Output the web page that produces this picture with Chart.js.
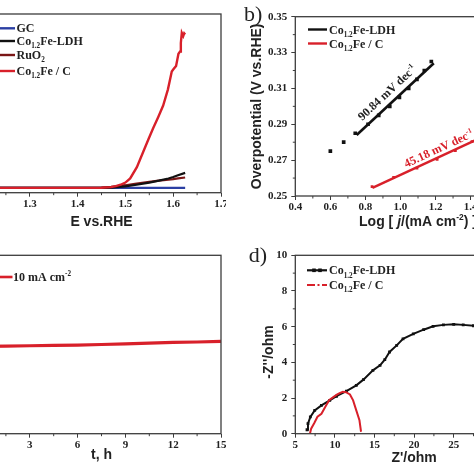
<!DOCTYPE html>
<html>
<head>
<meta charset="utf-8">
<script src="https://cdn.jsdelivr.net/npm/chart.js@4.4.0/dist/chart.umd.min.js"></script>
<style>
  html, body { margin: 0; padding: 0; background: #fff; }
  body { width: 474px; height: 474px; position: relative; overflow: hidden; }
  canvas { position: absolute; }
</style>
</head>
<body>
<canvas id="chartA" width="244" height="237" style="left:-18px;top:0px"></canvas>
<canvas id="chartB" width="310" height="237" style="left:237px;top:0px"></canvas>
<canvas id="chartC" width="244" height="237" style="left:-18px;top:237px"></canvas>
<canvas id="chartD" width="300" height="237" style="left:237px;top:237px"></canvas>
<script>
// a) polarization curves, E vs RHE (V) / current density
const gcE = [1.20, 1.30, 1.40, 1.50, 1.55, 1.60, 1.625];
const gcJ = [0, 0, 0, 0, 0, 0, 0];
const ldhE = [1.20, 1.30, 1.40, 1.45, 1.47, 1.50, 1.52, 1.55, 1.57, 1.59, 1.60, 1.61, 1.625];
const ldhJ = [0, 0, 0, 0, 0.1, 0.6, 1.2, 2.2, 3.0, 3.9, 4.5, 5.2, 6.2];
const ruo2E = [1.20, 1.30, 1.40, 1.45, 1.47, 1.50, 1.52, 1.55, 1.57, 1.59, 1.60, 1.61, 1.625];
const ruo2J = [0, 0, 0, 0.1, 0.4, 1.1, 1.7, 2.5, 3.0, 3.4, 3.6, 3.9, 4.3];
const cofeE = [1.20, 1.30, 1.40, 1.45, 1.47, 1.48, 1.49, 1.50, 1.51, 1.524, 1.538, 1.548, 1.558, 1.569, 1.579, 1.589, 1.597, 1.600, 1.606, 1.611, 1.6145, 1.616, 1.618, 1.621, 1.623, 1.625];
const cofeJ = [0, 0, 0, 0.05, 0.3, 0.7, 1.3, 2.2, 3.9, 8.6, 15.3, 20.0, 24.7, 29.5, 34.1, 40.8, 48.2, 49.0, 50.5, 55.5, 56.5, 60.0, 64.2, 62.9, 64.0, 63.5];

// b) Tafel plots
const ldhLogJ = [0.60, 0.676, 0.742, 0.815, 0.876, 0.939, 0.994, 1.047, 1.094, 1.136, 1.176];
const ldhEta = [0.275, 0.280, 0.285, 0.290, 0.295, 0.300, 0.305, 0.310, 0.315, 0.320, 0.325];
const ldhFitX = [0.75, 1.19];
const ldhFitY = [0.2840, 0.3240];
const cofeLogJ = [0.838, 0.961, 1.094, 1.209, 1.313, 1.408];
const cofeEta = [0.2552, 0.2604, 0.2655, 0.2705, 0.2753, 0.2803];
const cofeFitX = [0.84, 1.45];
const cofeFitY = [0.2545, 0.2821];
const ldhSlope = '90.84 mV dec';
const cofeSlope = '45.18 mV dec';

// c) stability at 10 mA cm-2
const timeH = [0, 1.5, 3, 4.5, 6, 7.5, 9, 10.5, 12, 13.5, 15];
const potV = [1.489, 1.491, 1.493, 1.495, 1.497, 1.500, 1.504, 1.508, 1.512, 1.514, 1.518];

// d) Nyquist plots
const ldhZre = [6.48, 6.6, 6.9, 7.45, 8.3, 9.35, 10.2, 11.45, 12.7, 13.6, 14.8, 15.7, 16.3, 16.9, 17.8, 18.6, 19.9, 21.2, 22.4, 23.7, 25.0, 26.2, 27.5];
const ldhZim = [0.22, 0.56, 0.94, 1.31, 1.59, 1.87, 2.10, 2.39, 2.71, 3.03, 3.55, 3.83, 4.15, 4.58, 4.95, 5.32, 5.60, 5.83, 6.02, 6.10, 6.13, 6.10, 6.05];
const cofeZre = [6.86, 7.0, 7.4, 7.8, 8.3, 8.9, 9.3, 9.8, 10.3, 10.6, 11.0, 11.4, 11.9, 12.3, 12.7, 13.1, 13.3];
const cofeZim = [0.02, 0.28, 0.6, 0.95, 1.12, 1.59, 1.89, 2.05, 2.2, 2.27, 2.35, 2.33, 2.2, 1.87, 1.31, 0.75, 0.11];

const SERIF = '"Liberation Serif", "Times New Roman", serif';
const SANS = '"Liberation Sans", Arial, sans-serif';
const INK = '#222';
const AXIS = '#3c3c3c';
const RED = '#d8202a';
const DARKRED = '#7a1616';
const BLUE = '#2b3fa3';

const xy = (xs, ys) => xs.map((x, i) => ({ x: x, y: ys[i] }));

function drawRich(ctx, parts, x, y, o) {
    const size = o.size || 12;
    const family = o.family || SERIF;
    const weight = o.weight || 'bold';
    const items = parts.map(([t, k]) => {
        const small = k === 'sub' || k === 'sup';
        const font = (k === 'it' ? 'italic ' : '') + weight + ' ' + (small ? size * 0.6 : size) + 'px ' + family;
        ctx.font = font;
        const dy = k === 'sub' ? size * 0.28 : k === 'sup' ? -size * 0.42 : 0;
        return { t: t, font: font, w: ctx.measureText(t).width, dy: dy };
    });
    const total = items.reduce((a, b) => a + b.w, 0);
    let cx = o.align === 'center' ? -total / 2 : 0;
    ctx.save();
    ctx.translate(x, y);
    if (o.angle) ctx.rotate(o.angle);
    ctx.fillStyle = o.color || INK;
    ctx.textBaseline = o.baseline || 'alphabetic';
    ctx.textAlign = 'left';
    items.forEach(it => {
        ctx.font = it.font;
        ctx.fillText(it.t, cx, it.dy + (o.dy || 0));
        cx += it.w;
    });
    ctx.restore();
}

function legendLine(ctx, x1, x2, y, color, width, dash) {
    ctx.save();
    ctx.strokeStyle = color;
    ctx.lineWidth = width;
    if (dash) ctx.setLineDash(dash);
    ctx.beginPath();
    ctx.moveTo(x1, y);
    ctx.lineTo(x2, y);
    ctx.stroke();
    ctx.restore();
}

const framePlugin = {
    id: 'frame',
    afterDraw(chart, args, opts) {
        const { ctx, chartArea: a, scales } = chart;
        ctx.save();
        ctx.strokeStyle = AXIS;
        ctx.lineWidth = 1.3;
        ctx.strokeRect(a.left, a.top, a.right - a.left, a.bottom - a.top);
        ctx.lineWidth = 1;
        const minor = (scale, step, horiz) => {
            const n = Math.round((scale.max - scale.min) / step);
            for (let i = 1; i < n; i += 2) {
                const p = scale.getPixelForValue(scale.min + i * step);
                ctx.beginPath();
                if (horiz) { ctx.moveTo(p, a.bottom); ctx.lineTo(p, a.bottom + 2.5); }
                else { ctx.moveTo(a.left, p); ctx.lineTo(a.left - 2.5, p); }
                ctx.stroke();
            }
        };
        if (opts.minorX) minor(scales.x, opts.minorX, true);
        if (opts.minorY) minor(scales.y, opts.minorY, false);
        if (opts.extra) opts.extra(chart, ctx);
        ctx.restore();
    }
};
Chart.register(framePlugin);

const tickFont = { family: SERIF, weight: 'bold', size: 11 };
const titleFont = { family: SANS, weight: 'bold', size: 14 };

function xAxis(min, max, step, digits, height, title, padBottom) {
    return {
        type: 'linear', min: min, max: max,
        afterFit: s => { s.height = height; s.paddingLeft = 0; s.paddingRight = 0; },
        ticks: { stepSize: step, color: INK, padding: 1, font: tickFont, maxRotation: 0, autoSkip: false,
                 callback: v => v.toFixed(digits) },
        grid: { display: true, drawOnChartArea: false, drawTicks: true, tickLength: 4, color: AXIS, lineWidth: 1 },
        border: { display: false },
        title: title ? { display: true, text: title, color: INK, font: titleFont, padding: { top: 0, bottom: padBottom } } : { display: false }
    };
}

function yAxis(min, max, step, digits, width, title, padTop) {
    return {
        type: 'linear', min: min, max: max,
        afterFit: s => { s.width = width; s.paddingTop = 0; s.paddingBottom = 0; },
        ticks: { stepSize: step, color: INK, padding: 4, font: tickFont, autoSkip: false,
                 callback: v => v.toFixed(digits) },
        grid: { display: true, drawOnChartArea: false, drawTicks: true, tickLength: 4, color: AXIS, lineWidth: 1 },
        border: { display: false },
        title: title ? { display: true, text: title, color: INK, font: titleFont, padding: { top: padTop, bottom: 0 } } : { display: false }
    };
}

const hiddenY = (min, max) => ({ type: 'linear', display: false, min: min, max: max });

const line = (data, color, width) => ({ data: data, showLine: true, borderColor: color, backgroundColor: color, borderWidth: width, pointRadius: 0, tension: 0 });

const base = (padding, scales, frame) => ({
    responsive: false,
    animation: false,
    layout: { padding: padding },
    plugins: { legend: { display: false }, tooltip: { enabled: false }, frame: frame },
    scales: scales
});

// a)
new Chart(document.getElementById('chartA'), {
    type: 'scatter',
    data: {
        datasets: [
            line(xy(cofeE, cofeJ), RED, 2.4),
            line(xy(ldhE, ldhJ), '#111', 2.2),
            line(xy(ruo2E, ruo2J), DARKRED, 2.2),
            line(xy(gcE, gcJ), BLUE, 2.2)
        ]
    },
    options: base({ top: 14, right: 5, left: 0, bottom: 0 }, {
        x: xAxis(1.2, 1.7, 0.1, 1, 44.3, 'E vs.RHE', 6),
        y: hiddenY(-2, 72)
    }, {
        minorX: 0.05,
        extra: (chart, ctx) => {
            const rows = [
                [28.3, BLUE, [['GC', '']]],
                [41, '#111', [['Co', ''], ['1.2', 'sub'], ['Fe-LDH', '']]],
                [55, DARKRED, [['RuO', ''], ['2', 'sub']]],
                [71, RED, [['Co', ''], ['1.2', 'sub'], ['Fe / C', '']]]
            ];
            rows.forEach(([y, c, parts]) => {
                legendLine(ctx, 8, 33, y, c, 2.4);
                drawRich(ctx, parts, 34.5, y + 4, { size: 12 });
            });
        }
    })
});

// b)
new Chart(document.getElementById('chartB'), {
    type: 'scatter',
    data: {
        datasets: [
            line(xy(ldhFitX, ldhFitY), '#111', 2.6),
            { data: xy(ldhLogJ, ldhEta), pointStyle: 'rect', pointRadius: 2.6, backgroundColor: '#111', borderWidth: 0 },
            line(xy(cofeFitX, cofeFitY), RED, 2.4),
            { data: xy(cofeLogJ, cofeEta), pointStyle: 'rect', pointRadius: 2, backgroundColor: RED, borderWidth: 0 }
        ]
    },
    options: base({ top: 16.7, right: 6.3, left: 0, bottom: 0 }, {
        x: xAxis(0.4, 1.8, 0.2, 1, 41, null, 0),
        y: yAxis(0.25, 0.35, 0.02, 2, 58.3, 'Overpotential (V vs.RHE)', 11.6)
    }, {
        minorX: 0.1,
        minorY: 0.01,
        extra: (chart, ctx) => {
            const { x, y } = chart.scales;
            const a = chart.chartArea;
            ctx.save();
            ctx.fillStyle = INK;
            ctx.font = '22px ' + SERIF;
            ctx.textBaseline = 'alphabetic';
            ctx.fillText('b)', 7, 20.5);
            ctx.restore();
            legendLine(ctx, 71, 90, 29.5, '#111', 2.4);
            drawRich(ctx, [['Co', ''], ['1.2', 'sub'], ['Fe-LDH', '']], 92, 33.5, { size: 12 });
            legendLine(ctx, 71, 90, 43.5, RED, 2.4);
            drawRich(ctx, [['Co', ''], ['1.2', 'sub'], ['Fe / C', '']], 92, 47.5, { size: 12 });
            const ang = (fx, fy) => Math.atan2(y.getPixelForValue(fy[1]) - y.getPixelForValue(fy[0]),
                                               x.getPixelForValue(fx[1]) - x.getPixelForValue(fx[0]));
            drawRich(ctx, [[ldhSlope, ''], ['-1', 'sup']], x.getPixelForValue(0.923), y.getPixelForValue(0.3077),
                     { size: 12, align: 'center', angle: ang(ldhFitX, ldhFitY), dy: 4 });
            drawRich(ctx, [[cofeSlope, ''], ['-1', 'sup']], x.getPixelForValue(1.218), y.getPixelForValue(0.2766),
                     { size: 12, align: 'center', angle: ang(cofeFitX, cofeFitY), dy: 4, color: RED });
            drawRich(ctx, [['Log [ ', ''], ['j', 'it'], ['/(mA cm', ''], ['-2', 'sup'], [') ]', '']],
                     (a.left + a.right) / 2, 226, { size: 14, family: SANS, align: 'center' });
        }
    })
});

// c)
new Chart(document.getElementById('chartC'), {
    type: 'scatter',
    data: { datasets: [line(xy(timeH, potV), RED, 3.2)] },
    options: base({ top: 18.3, right: 5, left: 0, bottom: 0 }, {
        x: xAxis(0, 15, 3, 0, 40.3, 't, h', 10.1),
        y: hiddenY(1.0, 2.0)
    }, {
        minorX: 1.5,
        extra: (chart, ctx) => {
            legendLine(ctx, 8, 30.5, 40, RED, 2.6);
            drawRich(ctx, [['10 mA cm', ''], ['-2', 'sup']], 31, 44, { size: 12 });
        }
    })
});

// d)
new Chart(document.getElementById('chartD'), {
    type: 'scatter',
    data: {
        datasets: [
            line(xy(cofeZre, cofeZim), RED, 2),
            { data: xy(ldhZre, ldhZim), showLine: true, borderColor: '#111', backgroundColor: '#111', borderWidth: 2,
              pointStyle: 'rect', pointRadius: 2, pointBorderWidth: 0, tension: 0 }
        ]
    },
    options: base({ top: 18.3, right: 4.1, left: 0, bottom: 0 }, {
        x: xAxis(5, 35, 5, 0, 40.3, "Z'/ohm", 7.6),
        y: yAxis(0, 10, 2, 0, 58.3, null, 0)
    }, {
        minorX: 2.5,
        minorY: 1,
        extra: (chart, ctx) => {
            ctx.save();
            ctx.fillStyle = INK;
            ctx.font = '22px ' + SERIF;
            ctx.textBaseline = 'alphabetic';
            ctx.fillText('d)', 11.7, 25);
            ctx.fillStyle = '#111';
            [77, 83].forEach(px => ctx.fillRect(px - 1.8, 33.3 - 1.8, 3.6, 3.6));
            ctx.restore();
            drawRich(ctx, [["-Z''/ohm", '']], 32.5, 115, { size: 14, family: SANS, align: 'center',
                     angle: -Math.PI / 2, baseline: 'middle' });
            legendLine(ctx, 70, 90, 33.3, '#111', 2.2);
            drawRich(ctx, [['Co', ''], ['1.2', 'sub'], ['Fe-LDH', '']], 92, 37.3, { size: 12 });
            legendLine(ctx, 70, 90, 48, RED, 2.2, [8, 2.5, 2, 2.5]);
            drawRich(ctx, [['Co', ''], ['1.2', 'sub'], ['Fe / C', '']], 92, 52, { size: 12 });
        }
    })
});
</script>
</body>
</html>
